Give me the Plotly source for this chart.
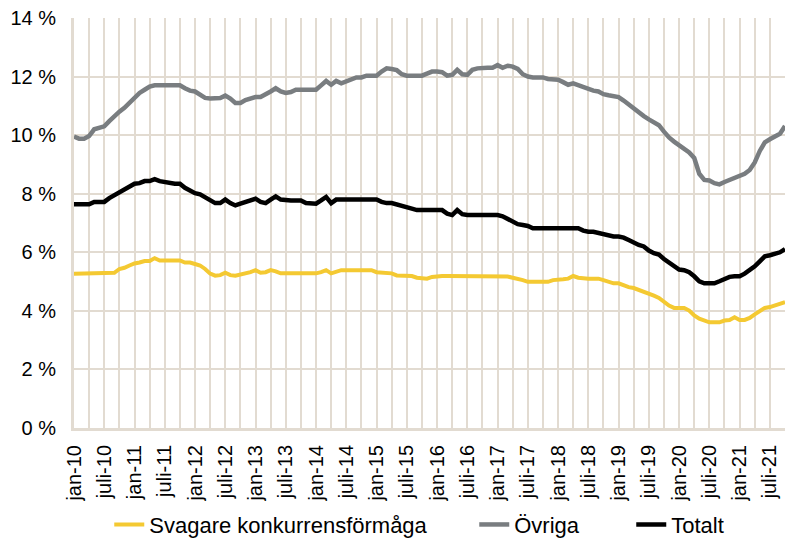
import plotly.graph_objects as go

month_names = ["jan", "feb", "mars", "apr", "maj", "juni", "juli", "aug", "sep", "okt", "nov", "dec"]
years = list(range(10, 22))
months = [f"{m}-{y:02d}" for y in years for m in month_names][:142]  # jan-10 .. okt-21

svagare = [
    5.27, 5.27, 5.27, 5.27, 5.27, 5.27, 5.27, 5.30, 5.30, 5.43, 5.47, 5.55, 5.62, 5.65, 5.70, 5.70,
    5.80, 5.72, 5.72, 5.72, 5.72, 5.72, 5.65, 5.65, 5.60, 5.55, 5.43, 5.27, 5.20, 5.22, 5.30, 5.22,
    5.20, 5.24, 5.25, 5.32, 5.39, 5.30, 5.32, 5.39, 5.35, 5.28, 5.28, 5.28, 5.28, 5.28, 5.28, 5.28,
    5.28, 5.32, 5.39, 5.28, 5.35, 5.39, 5.39, 5.39, 5.39, 5.39, 5.39, 5.39, 5.32, 5.30, 5.30, 5.28,
    5.21, 5.21, 5.21, 5.19, 5.13, 5.10, 5.10, 5.16, 5.19, 5.19, 5.19, 5.19, 5.19, 5.19, 5.19, 5.19,
    5.19, 5.19, 5.19, 5.19, 5.19, 5.19, 5.17, 5.13, 5.10, 5.05, 4.99, 4.99, 4.99, 4.99, 4.99, 5.05,
    5.08, 5.08, 5.10, 5.19, 5.13, 5.10, 5.10, 5.10, 5.10, 5.05, 4.99, 4.94, 4.94, 4.86, 4.81, 4.78,
    4.72, 4.67, 4.58, 4.52, 4.44, 4.30, 4.18, 4.10, 4.10, 4.10, 4.01, 3.84, 3.73, 3.67, 3.61, 3.61,
    3.61, 3.67, 3.69, 3.78, 3.69, 3.69, 3.76, 3.88, 4.01, 4.10, 4.13, 4.18, 4.24, 4.30,
]

ovriga = [
    9.95, 9.88, 9.88, 9.97, 10.20, 10.25, 10.30, 10.48, 10.65, 10.80, 10.93, 11.10, 11.32, 11.44, 11.55, 11.66,
    11.70, 11.70, 11.70, 11.70, 11.70, 11.70, 11.60, 11.52, 11.49, 11.38, 11.27, 11.25, 11.25, 11.27, 11.35, 11.25,
    11.10, 11.10, 11.20, 11.27, 11.30, 11.30, 11.38, 11.49, 11.60, 11.49, 11.44, 11.47, 11.55, 11.55, 11.55, 11.55,
    11.55, 11.70, 11.85, 11.72, 11.85, 11.77, 11.83, 11.92, 11.97, 11.97, 12.03, 12.03, 12.03, 12.17, 12.28, 12.26,
    12.22, 12.08, 12.03, 12.03, 12.03, 12.03, 12.10, 12.17, 12.17, 12.15, 12.03, 12.06, 12.23, 12.08, 12.06, 12.23,
    12.28, 12.30, 12.30, 12.30, 12.39, 12.30, 12.37, 12.34, 12.26, 12.08, 12.00, 11.97, 11.97, 11.97, 11.92, 11.89,
    11.89, 11.81, 11.72, 11.77, 11.70, 11.63, 11.55, 11.52, 11.49, 11.40, 11.36, 11.32, 11.30, 11.18, 11.04, 10.93,
    10.79, 10.65, 10.54, 10.46, 10.34, 10.12, 9.92, 9.78, 9.67, 9.55, 9.41, 9.22, 8.68, 8.47, 8.45, 8.36,
    8.32, 8.40, 8.47, 8.56, 8.62, 8.68, 8.81, 9.07, 9.46, 9.75, 9.86, 9.94, 10.05, 10.31,
]

totalt = [
    7.64, 7.64, 7.64, 7.64, 7.72, 7.72, 7.72, 7.85, 7.94, 8.06, 8.14, 8.22, 8.34, 8.36, 8.43, 8.43,
    8.50, 8.43, 8.40, 8.34, 8.34, 8.34, 8.20, 8.11, 8.02, 7.98, 7.89, 7.80, 7.68, 7.68, 7.80, 7.68,
    7.60, 7.66, 7.72, 7.77, 7.83, 7.72, 7.68, 7.80, 7.91, 7.80, 7.77, 7.77, 7.77, 7.77, 7.68, 7.66,
    7.66, 7.77, 7.89, 7.68, 7.80, 7.80, 7.80, 7.80, 7.80, 7.80, 7.80, 7.80, 7.80, 7.72, 7.68, 7.68,
    7.64, 7.57, 7.55, 7.49, 7.44, 7.44, 7.44, 7.44, 7.44, 7.44, 7.32, 7.27, 7.44, 7.30, 7.27, 7.27,
    7.27, 7.27, 7.27, 7.27, 7.27, 7.23, 7.15, 7.08, 6.96, 6.93, 6.90, 6.82, 6.82, 6.82, 6.82, 6.82,
    6.82, 6.82, 6.82, 6.82, 6.82, 6.74, 6.70, 6.70, 6.65, 6.63, 6.59, 6.54, 6.54, 6.50, 6.42, 6.33,
    6.25, 6.20, 6.06, 5.97, 5.92, 5.77, 5.66, 5.54, 5.41, 5.39, 5.32, 5.18, 5.01, 4.94, 4.94, 4.94,
    5.01, 5.09, 5.16, 5.18, 5.18, 5.27, 5.39, 5.52, 5.69, 5.86, 5.90, 5.94, 6.00, 6.11,
]

y_ticks = [0, 2, 4, 6, 8, 10, 12, 14]
y_tick_labels = [f"{v} %" for v in y_ticks]

x_tickvals = months[::3]
x_ticktext = [m if m.startswith(("jan-", "juli-")) else "" for m in x_tickvals]

grid_color = "#E2DBD1"
font_family = "Liberation Sans, Arial, sans-serif"

fig = go.Figure()
fig.add_trace(go.Scatter(x=months, y=svagare, mode="lines", name="Svagare konkurrensförmåga",
                         line=dict(color="#F4C932", width=4), legendwidth=320))
fig.add_trace(go.Scatter(x=months, y=ovriga, mode="lines", name="Övriga",
                         line=dict(color="#797D80", width=4.5), legendwidth=112))
fig.add_trace(go.Scatter(x=months, y=totalt, mode="lines", name="Totalt",
                         line=dict(color="#000000", width=4.5), legendwidth=70))

fig.update_layout(
    width=786, height=542,
    margin=dict(l=74, r=1, t=18, b=114, autoexpand=False),
    paper_bgcolor="white", plot_bgcolor="white",
    font=dict(family=font_family, color="#000000"),
    showlegend=True,
    legend=dict(orientation="h", xref="container", yref="container",
                x=0.139, xanchor="left", y=0.032, yanchor="middle",
                font=dict(size=22, family=font_family), itemwidth=30,
                bgcolor="rgba(0,0,0,0)"),
)
fig.update_xaxes(
    type="category", range=[0, len(months) - 1],
    tickmode="array", tickvals=x_tickvals, ticktext=x_ticktext,
    tickangle=-90, tickfont=dict(size=20, family=font_family),
    showgrid=True, gridcolor=grid_color, gridwidth=2,
    showline=True, linecolor=grid_color, linewidth=3,
    ticks="", ticklabelstandoff=6, automargin=False,
)
fig.update_yaxes(
    range=[0, 14], tickmode="array", tickvals=y_ticks, ticktext=y_tick_labels,
    tickfont=dict(size=20, family=font_family),
    showgrid=True, gridcolor=grid_color, gridwidth=2,
    showline=True, linecolor=grid_color, linewidth=3,
    zeroline=False, ticks="", ticklabelstandoff=11, automargin=False,
)

fig.write_html("out.html", config={"displayModeBar": False},
               post_script="document.body.style.margin='0';document.body.style.overflow='hidden';")
